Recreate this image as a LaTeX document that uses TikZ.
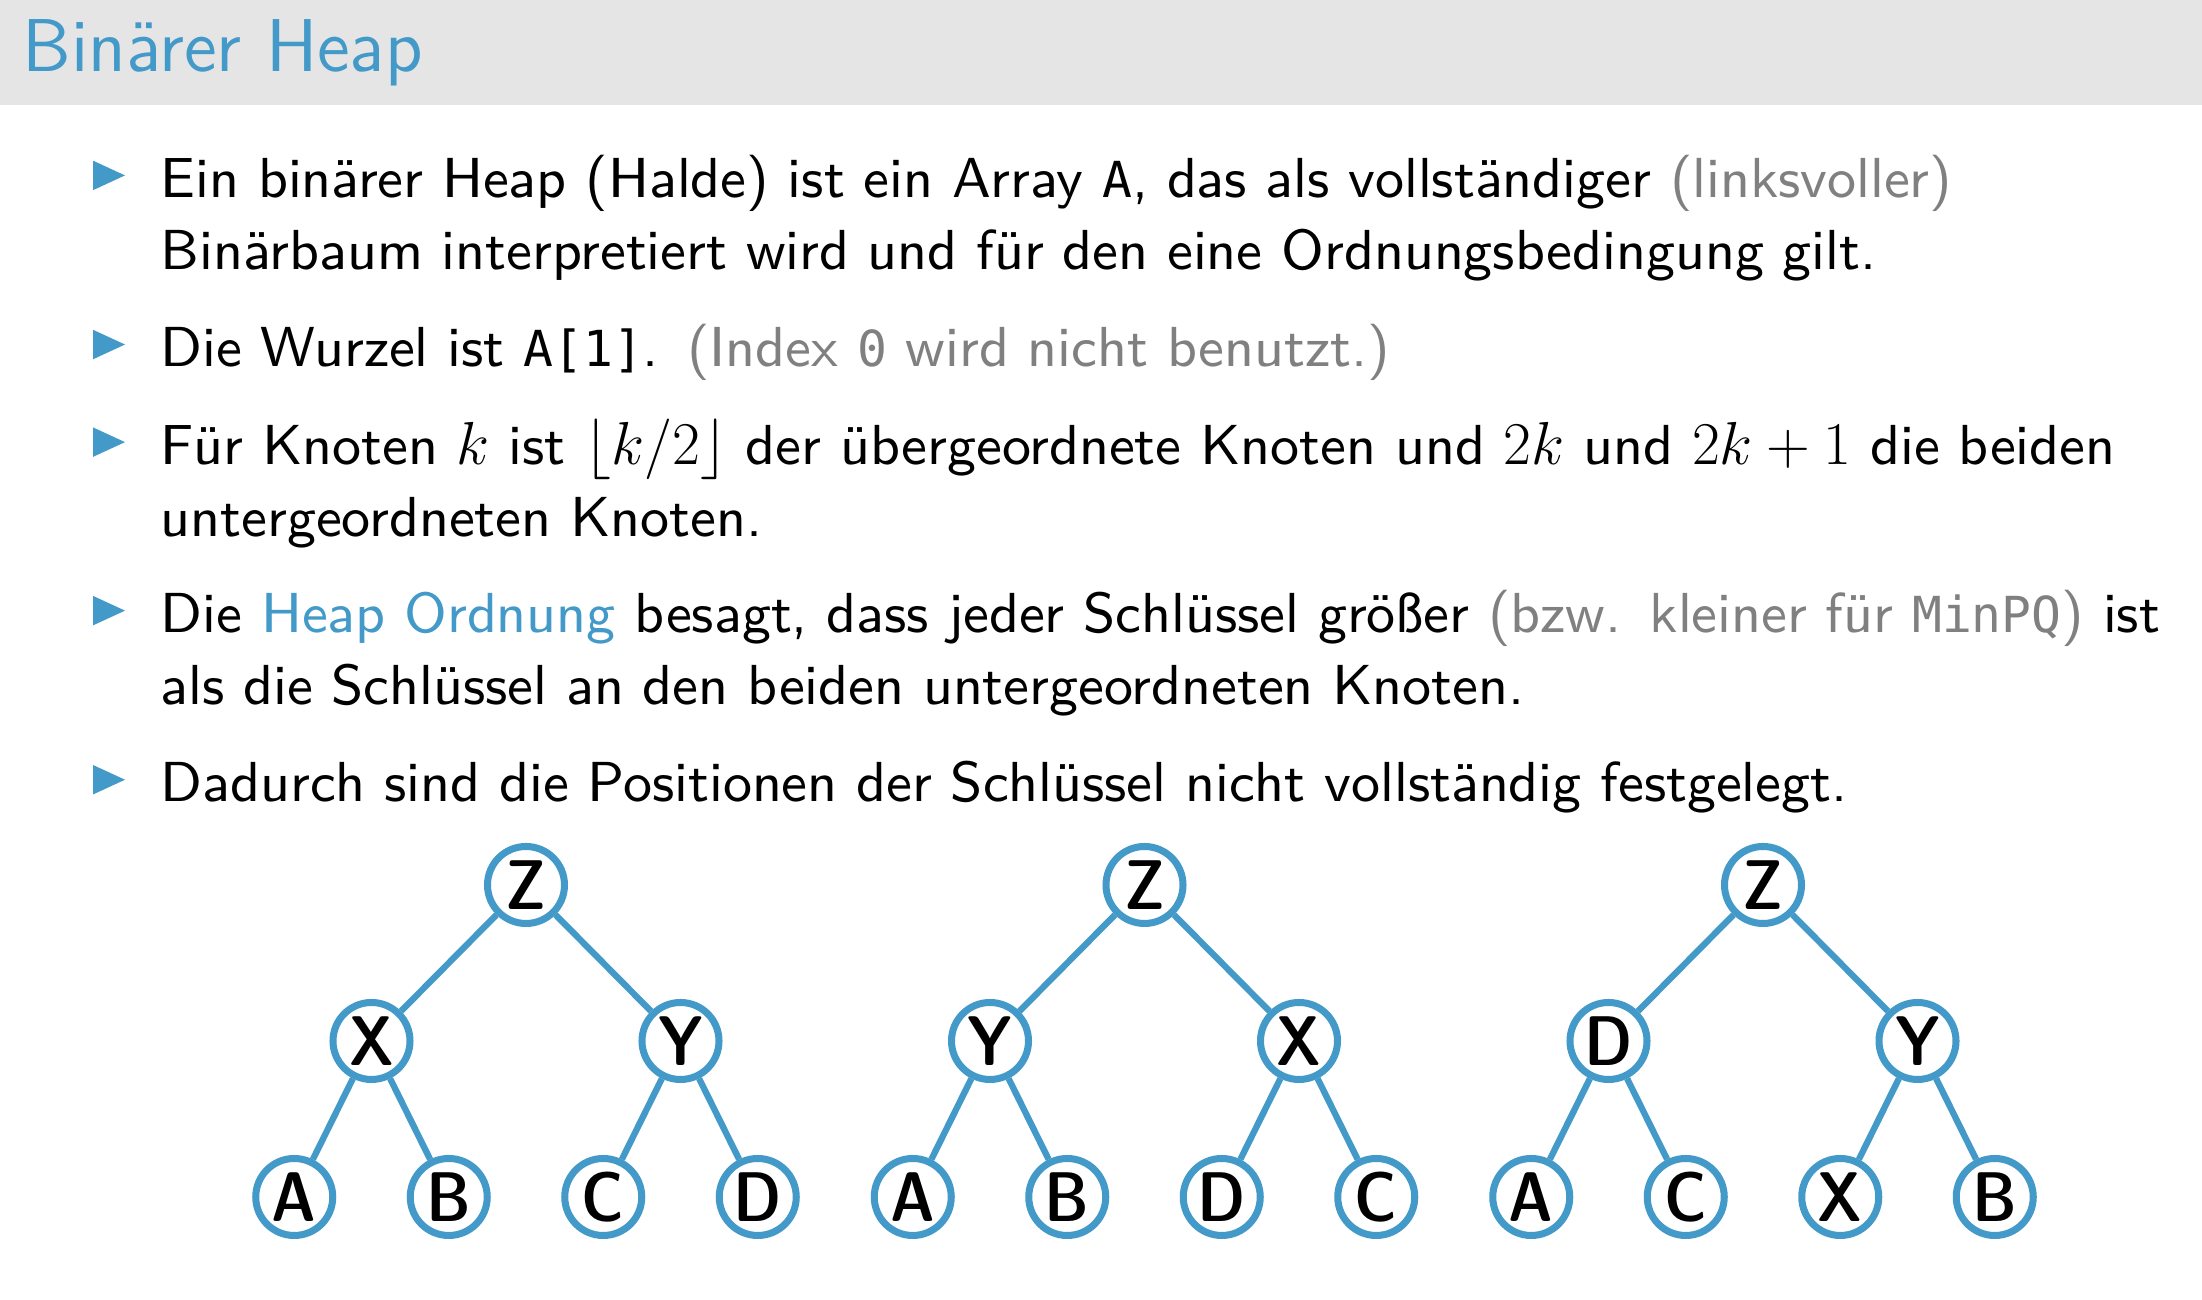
\documentclass[tikz,border=0pt]{standalone}
\usepackage{fontspec}
\setsansfont{lmsans9-regular.otf}
\newfontfamily\titlesans{lmsans12-regular.otf}
\setmonofont[Scale=0.88]{DejaVu Sans Mono}
\usetikzlibrary{calc}
\definecolor{heapblue}{RGB}{67,154,201}
\definecolor{notegray}{RGB}{128,128,128}
\definecolor{bargray}{RGB}{229,229,229}

\begin{document}
\begin{tikzpicture}
\tikzset{
% styles for the slide text and the heap trees
item text/.style={anchor=base west,inner sep=0,text width=20.2cm,align=left,
  font=\fontsize{16.05}{20.5}\sffamily\selectfont},
key node/.style={circle,draw=heapblue,line width=2pt,fill=white,inner sep=0,
  minimum size=0.77cm,font=\fontsize{20}{20}\fontfamily{lmss}\fontseries{sbc}\selectfont},
heap edge/.style={edge from parent/.style={draw=heapblue,line width=1.8pt}}
}
\useasboundingbox (0,0) rectangle (22.02,13);

% title bar
\fill[bargray] (0,13) rectangle (22.02,11.95);
\node(title)[anchor=base west,inner sep=0,text=heapblue,
  font=\fontsize{21.3}{25}\titlesans] at (0.22,12.28) {Binärer Heap};

% bullet triangles
\foreach \yy in {11.024,9.333,8.357,6.672,4.981}
  \fill[heapblue] (0.93,\yy+0.074) -- (0.93,\yy+0.369) -- (1.25,\yy+0.2215) -- cycle;

% items
\node(i1)[item text] at (1.60,11.024) {Ein binärer Heap (Halde) ist ein Array \texttt{A}, das als vollständiger \textcolor{notegray}{(linksvoller)}\\
Binärbaum interpretiert wird und für den eine Ordnungsbedingung gilt.};
\node(i2)[item text] at (1.60,9.333) {Die Wurzel ist \texttt{A[1]}. \textcolor{notegray}{(Index \texttt{0} wird nicht benutzt.)}};
\node(i3)[item text] at (1.60,8.357) {Für Knoten $k$ ist $\lfloor k/2\rfloor$ der übergeordnete Knoten und $2k$ und $2k+1$ die beiden\\
untergeordneten Knoten.};
\node(i4)[item text] at (1.60,6.672) {Die \textcolor{heapblue}{Heap Ordnung} besagt, dass jeder Schlüssel größer \textcolor{notegray}{(bzw. kleiner für \texttt{MinPQ})} ist\\
als die Schlüssel an den beiden untergeordneten Knoten.};
\node(i5)[item text] at (1.60,4.981) {Dadurch sind die Positionen der Schlüssel nicht vollständig festgelegt.};

% Specify spacing for each level of the trees
\tikzstyle{level 1}=[level distance=15.6mm,sibling distance=30.9mm]
\tikzstyle{level 2}=[level distance=15.6mm,sibling distance=15.45mm]

% The three heaps
\node(t1)[key node] at (5.26,4.15) {Z} [heap edge]
child{node[key node]{X}
  child{node[key node]{A}}
  child{node[key node]{B}}
}
child{node[key node]{Y}
  child{node[key node]{C}}
  child{node[key node]{D}}
};
\node(t2)[key node] at (11.445,4.15) {Z} [heap edge]
child{node[key node]{Y}
  child{node[key node]{A}}
  child{node[key node]{B}}
}
child{node[key node]{X}
  child{node[key node]{D}}
  child{node[key node]{C}}
};
\node(t3)[key node] at (17.63,4.15) {Z} [heap edge]
child{node[key node]{D}
  child{node[key node]{A}}
  child{node[key node]{C}}
}
child{node[key node]{Y}
  child{node[key node]{X}}
  child{node[key node]{B}}
};
\end{tikzpicture}
\end{document}
